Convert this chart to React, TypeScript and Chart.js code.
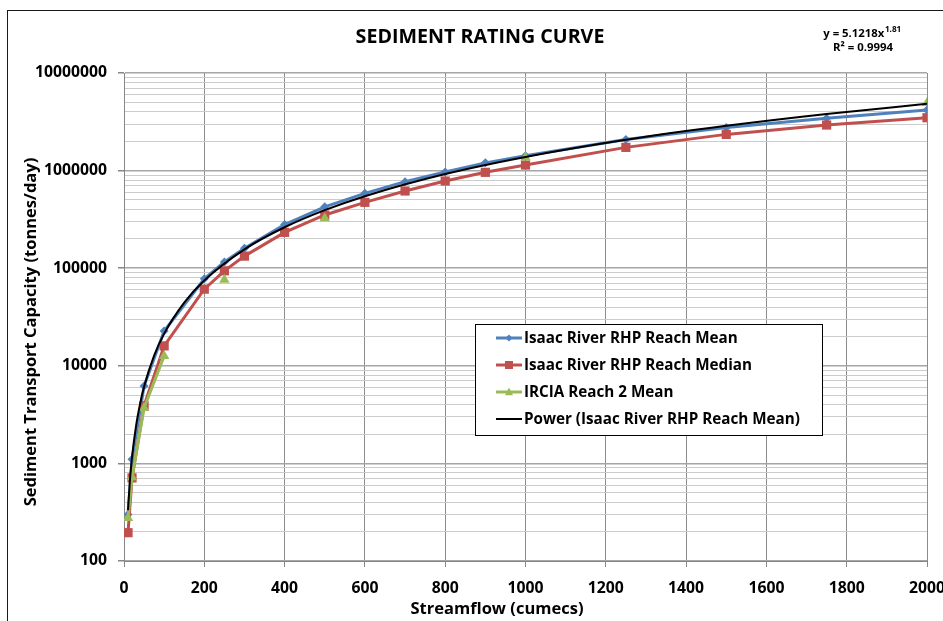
import React, { useEffect, useRef } from 'react';
import { Chart, registerables } from 'chart.js';

Chart.register(...registerables);

// ---- data ----
const flowValues = [10, 20, 50, 100, 200, 250, 300, 400, 500, 600, 700, 800, 900, 1000, 1250, 1500, 1750, 2000];
const reachMean = [300, 1100, 6200, 22700, 78000, 116000, 160000, 280000, 425000, 585000, 770000, 970000, 1200000, 1420000, 2080000, 2770000, 3430000, 4180000];
const reachMedian = [195, 710, 3900, 16000, 61000, 94000, 133000, 233000, 351000, 473000, 618000, 782000, 960000, 1140000, 1730000, 2350000, 2930000, 3480000];
const irciaMean = [275, 720, 3700, 12600, null, 76000, null, null, 325000, null, null, null, null, 1360000, null, null, null, 4930000];
const trendFlow = [10, 15, 20, 30, 40, 50, 75, 100, 150, 200, 300, 400, 500, 600, 800, 1000, 1250, 1500, 1750, 2000];
const trendValues = [331, 689, 1160, 2417, 4067, 6090, 12690, 21350, 44470, 74880, 156000, 262700, 393400, 547000, 921000, 1378500, 2066000, 2873000, 3800000, 4837000];
const yMajorTicks = [100, 1000, 10000, 100000, 1000000, 10000000];
const yMinorMultipliers = [2, 3, 4, 5, 6, 7, 8, 9];

const seriesLabels = [
  'Isaac River RHP Reach Mean',
  'Isaac River RHP Reach Median',
  'IRCIA Reach 2 Mean',
  'Power (Isaac River RHP Reach Mean)',
];
const seriesColors = ['#4f81bd', '#c0504d', '#9bbb59', '#000000'];

const chartTitle = 'SEDIMENT RATING CURVE';
const xTitle = 'Streamflow (cumecs)';
const yTitle = 'Sediment Transport Capacity (tonnes/day)';
const eqMain = 'y = 5.1218x';
const eqExp = '1.81';
const eqR2 = 'R\u00B2 = 0.9994';

const FONT = '"Open Sans", "Noto Sans", sans-serif';

const toPoints = (xs: number[], ys: (number | null)[]) => xs.map((x, i) => ({ x, y: ys[i] }));

function fitSize(ctx: CanvasRenderingContext2D, text: string, target: number) {
  ctx.font = `bold 20px ${FONT}`;
  const w = ctx.measureText(text).width;
  return (20 * target) / w;
}

function drawMarker(ctx: CanvasRenderingContext2D, kind: number, x: number, y: number, s: number) {
  ctx.beginPath();
  if (kind === 0) {
    ctx.moveTo(x, y - s);
    ctx.lineTo(x + s, y);
    ctx.lineTo(x, y + s);
    ctx.lineTo(x - s, y);
    ctx.closePath();
  } else if (kind === 1) {
    ctx.rect(x - s, y - s, 2 * s, 2 * s);
  } else if (kind === 2) {
    ctx.moveTo(x, y - s * 1.1);
    ctx.lineTo(x + s, y + s * 0.8);
    ctx.lineTo(x - s, y + s * 0.8);
    ctx.closePath();
  }
  ctx.fill();
}

const decorPlugin = {
  id: 'decor',
  beforeDraw(chart: any) {
    const ctx = chart.ctx as CanvasRenderingContext2D;
    ctx.save();
    ctx.fillStyle = '#ffffff';
    ctx.fillRect(0, 0, chart.width, chart.height);
    ctx.restore();
  },
  afterDraw(chart: any) {
    const ctx = chart.ctx as CanvasRenderingContext2D;
    ctx.save();
    // outer frame
    ctx.strokeStyle = '#1a1a1a';
    ctx.lineWidth = 1;
    ctx.strokeRect(7.5, 10.5, 1200, 1200);

    ctx.fillStyle = '#000';
    ctx.textBaseline = 'middle';
    ctx.textAlign = 'center';
    const tSize = fitSize(ctx, chartTitle, 249);
    ctx.font = `bold ${tSize}px ${FONT}`;
    ctx.fillText(chartTitle, 480, 37);

    // equation
    const eSize = fitSize(ctx, eqR2, 60);
    ctx.font = `bold ${eSize}px ${FONT}`;
    const wMain = ctx.measureText(eqMain).width;
    ctx.font = `bold ${eSize * 0.72}px ${FONT}`;
    const wExp = ctx.measureText(eqExp).width;
    const startX = 862 - (wMain + wExp) / 2;
    ctx.textAlign = 'left';
    ctx.font = `bold ${eSize}px ${FONT}`;
    ctx.fillText(eqMain, startX, 34);
    ctx.font = `bold ${eSize * 0.72}px ${FONT}`;
    ctx.fillText(eqExp, startX + wMain + 0.5, 30);
    ctx.textAlign = 'center';
    ctx.font = `bold ${eSize}px ${FONT}`;
    ctx.fillText(eqR2, 863, 48);

    // axis titles
    const yt = fitSize(ctx, yTitle, 349);
    ctx.font = `bold ${yt}px ${FONT}`;
    ctx.fillText(xTitle, 497, 609);
    ctx.save();
    ctx.translate(31, 332);
    ctx.rotate(-Math.PI / 2);
    ctx.fillText(yTitle, 0, 0);
    ctx.restore();

    // legend
    const lSize = fitSize(ctx, seriesLabels[0], 214);
    ctx.fillStyle = '#ffffff';
    ctx.fillRect(475.5, 324.5, 347, 111);
    ctx.strokeStyle = '#000';
    ctx.lineWidth = 1;
    ctx.strokeRect(475.5, 324.5, 347, 111);
    ctx.textAlign = 'left';
    ctx.font = `bold ${lSize}px ${FONT}`;
    seriesLabels.forEach((label, i) => {
      const y = 338 + i * 27;
      ctx.strokeStyle = seriesColors[i];
      ctx.lineWidth = i === 3 ? 2 : 3;
      ctx.beginPath();
      ctx.moveTo(496, y);
      ctx.lineTo(522, y);
      ctx.stroke();
      ctx.fillStyle = seriesColors[i];
      if (i < 3) drawMarker(ctx, i, 509, y, i === 0 ? 3.5 : 4);
      ctx.fillStyle = '#000';
      ctx.fillText(label, 524, y + 1);
    });
    ctx.restore();
  },
};

export default function App() {
  const canvasRef = useRef<HTMLCanvasElement | null>(null);

  useEffect(() => {
    let chart: Chart | null = null;
    let cancelled = false;
    const make = () => {
      if (cancelled || !canvasRef.current) return;
      const isMajor = (v: number) => yMajorTicks.includes(v);
      const mctx = canvasRef.current.getContext('2d') as CanvasRenderingContext2D;
      const tickSize = fitSize(mctx, '10000000', 72);
      chart = new Chart(canvasRef.current, {
        type: 'line',
        data: {
          datasets: [
            {
              label: seriesLabels[0],
              data: toPoints(flowValues, reachMean),
              borderColor: seriesColors[0],
              backgroundColor: seriesColors[0],
              borderWidth: 3,
              pointStyle: 'rectRot',
              pointRadius: 4.5,
              pointBorderWidth: 0,
              order: 4,
            },
            {
              label: seriesLabels[1],
              data: toPoints(flowValues, reachMedian),
              borderColor: seriesColors[1],
              backgroundColor: seriesColors[1],
              borderWidth: 3,
              pointStyle: 'rect',
              pointRadius: 6.5,
              pointBorderWidth: 0,
              order: 3,
            },
            {
              label: seriesLabels[2],
              data: toPoints(flowValues, irciaMean),
              borderColor: seriesColors[2],
              backgroundColor: seriesColors[2],
              borderWidth: 3,
              pointStyle: 'triangle',
              pointRadius: 6,
              pointBorderWidth: 0,
              spanGaps: false,
              order: 2,
            },
            {
              label: seriesLabels[3],
              data: toPoints(trendFlow, trendValues),
              borderColor: seriesColors[3],
              backgroundColor: seriesColors[3],
              borderWidth: 2,
              pointRadius: 0,
              cubicInterpolationMode: 'monotone',
              order: 1,
            },
          ] as any,
        },
        options: {
          animation: false,
          responsive: false,
          devicePixelRatio: 1,
          layout: { padding: { left: 0, top: 73, right: 33, bottom: 0 } },
          plugins: { legend: { display: false }, tooltip: { enabled: false }, title: { display: false } },
          scales: {
            x: {
              type: 'linear',
              min: 0,
              max: 2000,
              afterFit: (s: any) => { s.height = 60; },
              ticks: {
                stepSize: 200,
                color: '#000',
                padding: 12,
                font: { family: FONT, size: tickSize, weight: 'bold' },
                maxRotation: 0,
                callback: (v: any) => String(v),
              },
              grid: { color: '#8c8c8c', lineWidth: 1, tickLength: 6, tickColor: '#868686' },
              border: { color: '#868686', width: 1 },
            },
            y: {
              type: 'logarithmic',
              min: 100,
              max: 10000000,
              afterFit: (s: any) => { s.width = 124; },
              afterBuildTicks: (s: any) => {
                const ticks: { value: number }[] = [];
                for (let i = 0; i < yMajorTicks.length; i++) {
                  ticks.push({ value: yMajorTicks[i] });
                  if (i < yMajorTicks.length - 1) {
                    yMinorMultipliers.forEach((m) => ticks.push({ value: m * yMajorTicks[i] }));
                  }
                }
                s.ticks = ticks;
              },
              ticks: {
                color: '#000',
                padding: 11,
                autoSkip: false,
                font: { family: FONT, size: tickSize, weight: 'bold' },
                callback: (v: any) => (isMajor(Number(v)) ? String(v) : ''),
              },
              grid: {
                color: (c: any) => (c.tick && isMajor(c.tick.value) ? '#a6a6a6' : '#cccccc'),
                lineWidth: (c: any) => (c.tick && isMajor(c.tick.value) ? 1.5 : 1),
                tickLength: 6,
                tickColor: (c: any) => (c.tick && isMajor(c.tick.value) ? '#868686' : 'rgba(0,0,0,0)'),
              },
              border: { color: '#868686', width: 1 },
            },
          },
        } as any,
        plugins: [decorPlugin],
      });
    };
    const fontsApi = (document as any).fonts;
    if (fontsApi && fontsApi.load) {
      Promise.all([fontsApi.load(`bold 16px "Open Sans"`), fontsApi.load(`bold 16px "Noto Sans"`)]).then(make, make);
    } else {
      make();
    }
    return () => {
      cancelled = true;
      if (chart) chart.destroy();
    };
  }, []);

  return (
    <div style={{ position: 'fixed', left: 0, top: 0, width: 943, height: 621, overflow: 'hidden', background: '#fff' }}>
      <canvas ref={canvasRef} width={960} height={621} style={{ display: 'block', width: 960, height: 621 }} />
    </div>
  );
}
